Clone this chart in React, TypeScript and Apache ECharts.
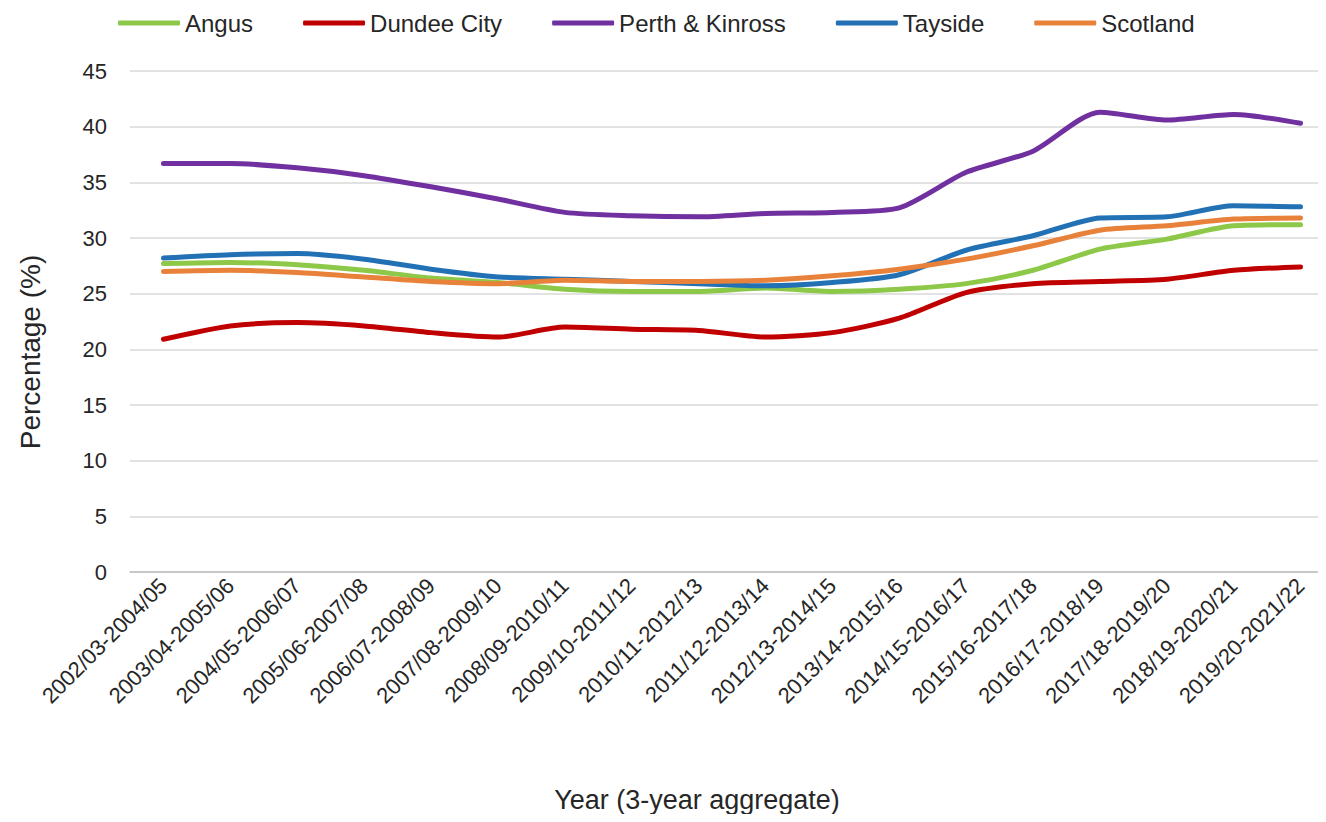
import React, { useEffect, useRef } from "react";
import * as echarts from "echarts";

const categories = [
  "2002/03-2004/05", "2003/04-2005/06", "2004/05-2006/07", "2005/06-2007/08",
  "2006/07-2008/09", "2007/08-2009/10", "2008/09-2010/11", "2009/10-2011/12",
  "2010/11-2012/13", "2011/12-2013/14", "2012/13-2014/15", "2013/14-2015/16",
  "2014/15-2016/17", "2015/16-2017/18", "2016/17-2018/19", "2017/18-2019/20",
  "2018/19-2020/21", "2019/20-2021/22",
];

const angus = [27.7, 27.8, 27.6, 27.1, 26.4, 26.0, 25.4, 25.2, 25.2, 25.5, 25.2, 25.4, 25.9, 27.1, 29.0, 29.9, 31.1, 31.2];
const dundee = [20.9, 22.1, 22.4, 22.1, 21.5, 21.1, 22.0, 21.8, 21.7, 21.1, 21.5, 22.8, 25.1, 25.9, 26.1, 26.3, 27.1, 27.4];
const perth = [36.7, 36.7, 36.3, 35.6, 34.6, 33.5, 32.3, 32.0, 31.9, 32.2, 32.3, 32.7, 35.9, 37.8, 41.3, 40.6, 41.1, 40.3];
const tayside = [28.2, 28.5, 28.6, 28.1, 27.2, 26.5, 26.3, 26.1, 25.9, 25.7, 26.0, 26.7, 28.9, 30.2, 31.8, 31.9, 32.9, 32.8];
const scotland = [27.0, 27.1, 26.9, 26.5, 26.1, 25.9, 26.2, 26.1, 26.1, 26.2, 26.6, 27.2, 28.1, 29.3, 30.7, 31.1, 31.7, 31.8];

const seriesNames = ["Angus", "Dundee City", "Perth & Kinross", "Tayside", "Scotland"];
const seriesColors = ["#8DC849", "#C00000", "#7030A0", "#2271B5", "#E8823A"];
const seriesData = [angus, dundee, perth, tayside, scotland];

const FONT = "Liberation Sans, Arial, sans-serif";

export default function App() {
  const ref = useRef<HTMLDivElement>(null);
  useEffect(() => {
    if (!ref.current) return;
    const chart = echarts.init(ref.current, undefined, { renderer: "svg" });
    chart.setOption({
      animation: false,
      backgroundColor: "#ffffff",
      textStyle: { fontFamily: FONT },
      legend: {
        left: 113,
        top: 6,
        itemWidth: 62,
        itemHeight: 5,
        itemGap: 50,
        textStyle: { fontSize: 24, color: "#262626", fontFamily: FONT, padding: [0, 0, 0, 0] },
        data: seriesNames.map((n) => ({ name: n, icon: "roundRect" })),
      },
      grid: { left: 130, width: 1204, top: 71, bottom: 250, outerBoundsMode: "none", containLabel: false },
      xAxis: {
        type: "category",
        data: categories,
        boundaryGap: true,
        axisLine: { show: true, lineStyle: { color: "#BFBFBF", width: 1.5 } },
        axisTick: { show: false },
        axisLabel: {
          rotate: 45,
          interval: 0,
          margin: 10,
          fontSize: 22,
          color: "#262626",
          fontFamily: FONT,
        },
      },
      yAxis: {
        type: "value",
        min: 0,
        max: 45,
        interval: 5,
        axisLine: { show: false },
        axisTick: { show: false },
        splitLine: { lineStyle: { color: "#D9D9D9", width: 1.5 } },
        axisLabel: { fontSize: 22, color: "#262626", margin: 23, fontFamily: FONT },
      },
      graphic: [
        {
          type: "text",
          x: 30,
          y: 352,
          rotation: Math.PI / 2,
          style: {
            text: "Percentage (%)",
            fontSize: 28,
            fill: "#262626",
            fontFamily: FONT,
            align: "center",
            verticalAlign: "middle",
          },
        },
        {
          type: "text",
          x: 697,
          y: 800,
          style: {
            text: "Year (3-year aggregate)",
            fontSize: 27,
            fill: "#262626",
            fontFamily: FONT,
            align: "center",
            verticalAlign: "middle",
          },
        },
      ],
      series: seriesNames.map((name, i) => ({
        name,
        type: "line",
        data: seriesData[i],
        smooth: 0.25,
        symbol: "none",
        color: seriesColors[i],
        lineStyle: { width: 5, color: seriesColors[i], cap: "round", join: "round" },
      })),
    });
    return () => chart.dispose();
  }, []);
  return <div ref={ref} style={{ width: 1326, height: 822, margin: -8 }} />;
}
